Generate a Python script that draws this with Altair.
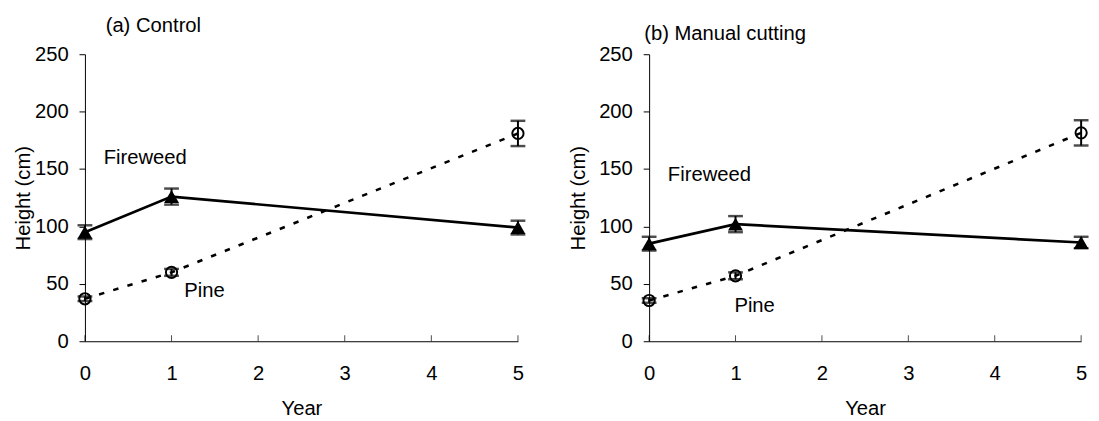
import altair as alt
import pandas as pd

# ---- data ----
years = [0, 1, 5]
x_tick_values = [0, 1, 2, 3, 4, 5]
y_tick_values = [0, 50, 100, 150, 200, 250]

fireweed_a = [95, 126, 99]
fireweed_a_se = [6, 7, 6]
pine_a = [37, 60, 181]
pine_a_se = [2, 3, 11]

fireweed_b = [85, 102, 86]
fireweed_b_se = [6, 7, 5]
pine_b = [35.5, 57, 181.5]
pine_b_se = [2, 3, 11]

label_text = ["Fireweed", "Pine"]
label_a_x = [0.216, 1.148]
label_a_y = [154.6, 38.7]
label_b_x = [0.217, 0.987]
label_b_y = [140, 25.8]

FONT = "Liberation Sans"
FS = 20.5


def panel(fw, fw_se, pn, pn_se, lx, ly, title, title_dx, title_offset, ytitle_pad, width):
    df = pd.DataFrame({
        "year": years * 2,
        "species": ["Fireweed"] * 3 + ["Pine"] * 3,
        "height": fw + pn,
        "se": fw_se + pn_se,
    })
    df["lo"] = df["height"] - df["se"]
    df["hi"] = df["height"] + df["se"]
    fw_df = df[df.species == "Fireweed"]
    pn_df = df[df.species == "Pine"]
    lab_df = pd.DataFrame({"year": lx, "height": ly, "text": label_text})
    tick_df = pd.DataFrame({"year": x_tick_values, "height": [0] * len(x_tick_values)})

    x = alt.X("year:Q",
              scale=alt.Scale(domain=[0, 5], nice=False, zero=False),
              axis=alt.Axis(values=x_tick_values, format="d", tickSize=0, labelPadding=23,
                            labelFlush=False, title="Year", titlePadding=15, grid=False))
    y = alt.Y("height:Q",
              scale=alt.Scale(domain=[0, 250], nice=False),
              axis=alt.Axis(values=y_tick_values, tickSize=6, labelPadding=11,
                            title="Height (cm)", titlePadding=ytitle_pad, grid=False))

    base = alt.Chart(df)
    fw_line = alt.Chart(fw_df).mark_line(color="black", strokeWidth=2.7).encode(x=x, y=y)
    pn_line = alt.Chart(pn_df).mark_line(color="black", strokeWidth=2.6,
                                          strokeDash=[5.5, 9.5]).encode(x=x, y=y)
    bars = base.mark_rule(color="black", strokeWidth=2).encode(
        x=x, y=alt.Y("lo:Q"), y2="hi:Q")
    cap_hi = base.mark_tick(color="black", thickness=2.5, size=15, orient="horizontal").encode(
        x=x, y=alt.Y("hi:Q"))
    cap_lo = base.mark_tick(color="black", thickness=2.5, size=15, orient="horizontal").encode(
        x=x, y=alt.Y("lo:Q"))
    fw_pts = alt.Chart(fw_df).mark_point(shape="triangle-up", filled=True, size=230,
                                         color="black", opacity=1).encode(x=x, y=y)
    pn_pts = alt.Chart(pn_df).mark_point(shape="circle", filled=False, size=130,
                                         color="black", strokeWidth=2, opacity=1).encode(x=x, y=y)
    labels = alt.Chart(lab_df).mark_text(align="left", baseline="alphabetic", font=FONT,
                                         fontSize=FS, color="black").encode(
        x=x, y=y, text="text:N")
    xticks = alt.Chart(tick_df).mark_tick(color="black", thickness=1, size=6,
                                          orient="vertical", yOffset=-3).encode(x=x, y=y)

    return alt.layer(fw_line, pn_line, bars, cap_hi, cap_lo, fw_pts, pn_pts, labels, xticks).properties(
        width=width, height=291,
        title=alt.TitleParams(title, anchor="start", frame="group", dx=title_dx,
                              offset=title_offset, font=FONT, fontSize=FS,
                              fontWeight="normal", color="black"),
    )


a = panel(fireweed_a, fireweed_a_se, pine_a, pine_a_se, label_a_x, label_a_y,
          "(a) Control", 21, 8, 1, 439)
b = panel(fireweed_b, fireweed_b_se, pine_b, pine_b_se, label_b_x, label_b_y,
          "(b) Manual cutting", -5, 0, 10, 438)

chart = alt.hconcat(a, b, spacing=41).properties(
    padding={"left": 5, "top": 5, "right": 0, "bottom": 0}
).configure_view(stroke=None).configure_axis(
    domainColor="black", tickColor="black", labelColor="black", titleColor="black",
    labelFont=FONT, titleFont=FONT, labelFontSize=FS, titleFontSize=FS,
    titleFontWeight="normal", domainWidth=1, tickWidth=1,
)

chart.save("out.html", embed_options={"renderer": "svg", "actions": False})
